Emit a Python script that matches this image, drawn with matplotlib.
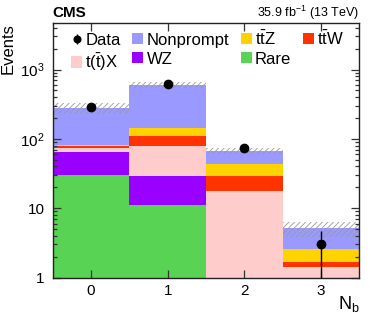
import matplotlib
matplotlib.use("Agg")
import matplotlib.pyplot as plt
import numpy as np
from matplotlib.patches import Patch
from matplotlib.legend_handler import HandlerErrorbar
from matplotlib.ticker import FixedLocator, FixedFormatter, NullLocator, LogLocator

plt.rcParams['font.family'] = ['Liberation Sans', 'DejaVu Sans']
plt.rcParams['mathtext.fontset'] = 'custom'
plt.rcParams['mathtext.rm'] = 'Liberation Sans'
plt.rcParams['mathtext.it'] = 'Liberation Sans:italic'
plt.rcParams['mathtext.bf'] = 'Liberation Sans:bold'
plt.rcParams['hatch.linewidth'] = 0.6

# N_b bins
nb = [0, 1, 2, 3]
nb_labels = ['0', '1', '2', '3']

# stacked backgrounds, bottom to top
rare = [30.0, 11.1, 0.5, 0.3]
wz = [34.0, 18.3, 0.2, 0.1]
ttx = [10.6, 50.4, 17.0, 1.0]
ttw = [5.2, 30.0, 11.4, 0.30]
ttz = [2.7, 32.0, 13.9, 0.91]
nonprompt = [196.5, 458.0, 24.6, 2.49]

# relative uncertainty on total prediction
unc = [0.17, 0.11, 0.09, 0.25]

data = [286, 620, 73, 3]
data_err_lo = [17, 25, 8.5, 2.5]
data_err_hi = [17, 25, 8.5, 1.7]

y_ticks = [1, 10, 100, 1000]
y_tick_labels = ['1', '10', '$10^{2}$', '$10^{3}$']

fig = plt.figure(figsize=(3.74, 3.19), dpi=100)
ax = fig.add_axes([0.141, 0.130, 0.820, 0.798])

stack = [
    (rare, '#59d354', 'Rare'),
    (wz, '#9900ff', 'WZ'),
    (ttx, '#ffcccc', r't($\bar{\mathrm{t}}$)X'),
    (ttw, '#ff3300', r't$\bar{\mathrm{t}}$W'),
    (ttz, '#ffd300', r't$\bar{\mathrm{t}}$Z'),
    (nonprompt, '#9999ff', 'Nonprompt'),
]

x = np.array(nb, dtype=float)
bottom = np.zeros(len(nb))
handles = {}
for vals, col, lab in stack:
    v = np.array(vals)
    ax.bar(x, v, width=1.0, bottom=bottom, color=col, linewidth=0)
    handles[lab] = Patch(facecolor=col, edgecolor='none', label=lab)
    bottom = bottom + v

total = bottom
u = np.array(unc)
ax.bar(x, 2 * u * total, width=1.0, bottom=total * (1 - u), fill=False,
       hatch='//////', edgecolor='#999999', linewidth=0)

eb = ax.errorbar(x, data, yerr=[data_err_lo, data_err_hi], fmt='o', color='black',
                 markersize=6, elinewidth=1, capsize=0, label='Data', zorder=5)

ax.set_yscale('log')
ax.set_xlim(-0.5, 3.5)
ax.set_ylim(1, 4700)

ax.set_xticks(nb)
ax.set_xticklabels(nb_labels)
ax.xaxis.set_minor_locator(NullLocator())
ax.yaxis.set_major_locator(FixedLocator(y_ticks))
ax.yaxis.set_major_formatter(FixedFormatter(y_tick_labels))
ax.yaxis.set_minor_locator(LogLocator(base=10, subs=np.arange(2, 10)))
ax.tick_params(which='both', direction='in', top=True, right=True,
               color='#333333', labelsize=11, width=0.9)
ax.tick_params(which='major', length=6)
ax.tick_params(which='minor', length=3.2)
ax.tick_params(axis='x', pad=5)
ax.tick_params(axis='y', pad=6)
for s in ax.spines.values():
    s.set_linewidth(1.0)
    s.set_color('#222222')

ax.set_ylabel('Events', fontsize=12, loc='top')
ax.yaxis.set_label_coords(-0.12, 1.0)
ax.set_xlabel(r'N$_{\mathrm{b}}$', fontsize=13, loc='right')
ax.xaxis.set_label_coords(1.0, -0.065)
ax.xaxis.label.set_va('top')

ax.text(0.0, 1.01, 'CMS', transform=ax.transAxes, fontsize=11,
        fontweight='bold', ha='left', va='bottom')
ax.text(1.0, 1.005, r'35.9 fb$^{-1}$ (13 TeV)', transform=ax.transAxes,
        fontsize=9, ha='right', va='bottom')

blank = Patch(facecolor='none', edgecolor='none', label='')
leg_handles = [eb, handles[r't($\bar{\mathrm{t}}$)X'],
               handles['Nonprompt'], handles['WZ'],
               handles[r't$\bar{\mathrm{t}}$Z'], handles['Rare'],
               handles[r't$\bar{\mathrm{t}}$W'], blank]
leg_labels = ['Data', r't($\bar{\mathrm{t}}$)X', 'Nonprompt', 'WZ',
              r't$\bar{\mathrm{t}}$Z', 'Rare', r't$\bar{\mathrm{t}}$W', '']
ax.legend(leg_handles, leg_labels, ncol=4, frameon=False, fontsize=12,
          loc='upper left', bbox_to_anchor=(0.06, 0.975), borderaxespad=0,
          borderpad=0, handlelength=0.65, handleheight=0.65,
          handletextpad=0.2, columnspacing=0.7, labelspacing=0.25,
          markerscale=0.8,
          handler_map={eb: HandlerErrorbar(xerr_size=0.3, yerr_size=0.3)})

fig.savefig('out.png', dpi=100)
